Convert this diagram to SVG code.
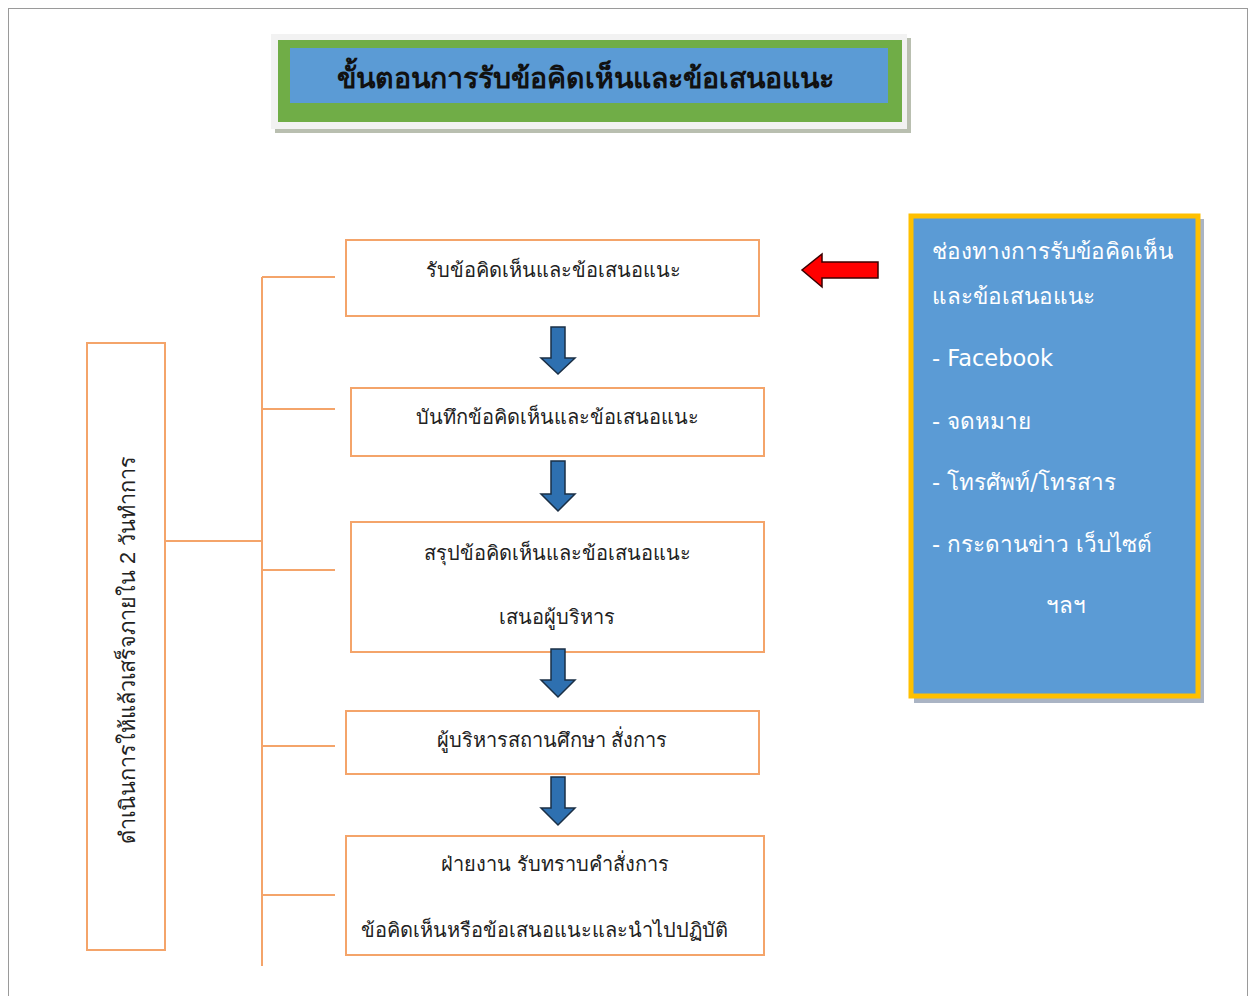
<svg xmlns="http://www.w3.org/2000/svg" width="1255" height="996" viewBox="0 0 1255 996">
<defs>
<style>
.box{fill:#ffffff;stroke:#f4a46a;stroke-width:2}
.line{stroke:#f4a46a;stroke-width:2;fill:none}
.t{font-family:"Liberation Sans","Noto Sans",sans-serif;font-size:20px;fill:#222222;text-anchor:middle}
.w{font-family:"DejaVu Sans","Noto Sans",sans-serif;font-size:22.5px;fill:#ffffff}
.barrow{fill:#2e70b0;stroke:#1a2f45;stroke-width:1.5}
</style>
</defs>
<rect x="0" y="0" width="1255" height="996" fill="#ffffff"/>
<rect x="8.5" y="8.5" width="1239" height="1000" fill="none" stroke="#9a9a9a" stroke-width="1"/>
<g id="title">
<rect x="275" y="38" width="636" height="95" fill="#b9bfb0"/>
<rect x="271" y="34" width="636" height="95" fill="#f2f2f2"/>
<rect x="278" y="40" width="624" height="82" fill="#70ad47"/>
<rect x="290" y="48" width="598" height="55" fill="#5b9bd5"/>
<text x="585" y="88" font-family="Liberation Sans,Noto Sans,sans-serif" font-size="28.5" font-weight="bold" fill="#111111" text-anchor="middle">ขั้นตอนการรับข้อคิดเห็นและข้อเสนอแนะ</text>
</g>
<g id="channels">
<rect x="914" y="219" width="290" height="484" fill="#aab4c4"/>
<rect x="911" y="216" width="287" height="480" fill="#5b9bd5" stroke="#ffc000" stroke-width="5"/>
<text class="w" x="932" y="259">ช่องทางการรับข้อคิดเห็น</text>
<text class="w" x="932" y="304">และข้อเสนอแนะ</text>
<text class="w" x="932" y="366">- Facebook</text>
<text class="w" x="932" y="429">- จดหมาย</text>
<text class="w" x="932" y="490">- โทรศัพท์/โทรสาร</text>
<text class="w" x="932" y="552">- กระดานข่าว เว็บไซต์</text>
<text class="w" x="1066" y="613" text-anchor="middle">ฯลฯ</text>
</g>
<g id="left">
<rect class="box" x="87" y="343" width="78" height="607"/>
<text class="t" style="font-size:21.7px" transform="translate(135,650) rotate(-90)">ดำเนินการให้แล้วเสร็จภายใน 2 วันทำการ</text>
</g>
<g id="n1">
<rect class="box" x="346" y="240" width="413" height="76"/>
<text class="t" x="553" y="277">รับข้อคิดเห็นและข้อเสนอแนะ</text>
</g>
<g id="n2">
<rect class="box" x="351" y="388" width="413" height="68"/>
<text class="t" x="557" y="424">บันทึกข้อคิดเห็นและข้อเสนอแนะ</text>
</g>
<g id="n3">
<rect class="box" x="351" y="522" width="413" height="130"/>
<text class="t" x="557" y="560">สรุปข้อคิดเห็นและข้อเสนอแนะ</text>
<text class="t" x="557" y="624">เสนอผู้บริหาร</text>
</g>
<g id="n4">
<rect class="box" x="346" y="711" width="413" height="63"/>
<text class="t" x="552" y="747">ผู้บริหารสถานศึกษา สั่งการ</text>
</g>
<g id="n5">
<rect class="box" x="346" y="836" width="418" height="119"/>
<text class="t" x="555" y="871">ฝ่ายงาน รับทราบคำสั่งการ</text>
<text class="t" x="544" y="937">ข้อคิดเห็นหรือข้อเสนอแนะและนำไปปฏิบัติ</text>
</g>
<g id="connectors">
<path class="line" d="M262 277 V966 M262 277 H335 M262 409 H335 M262 570 H335 M262 746 H335 M262 895 H335 M165 541 H262"/>
<path d="M878 262 H822 V254 L802 270 L822 287 V278 H878 Z" fill="#ff0000" stroke="#3a0000" stroke-width="1.5"/>
<path class="barrow" d="M551 327 H565 V358 H575 L558 374 L541 358 H551 Z"/>
<path class="barrow" d="M551 461 H565 V494 H575 L558 511 L541 494 H551 Z"/>
<path class="barrow" d="M551 649 H565 V680 H575 L558 697 L541 680 H551 Z"/>
<path class="barrow" d="M551 777 H565 V808 H575 L558 825 L541 808 H551 Z"/>
</g>
</svg>
